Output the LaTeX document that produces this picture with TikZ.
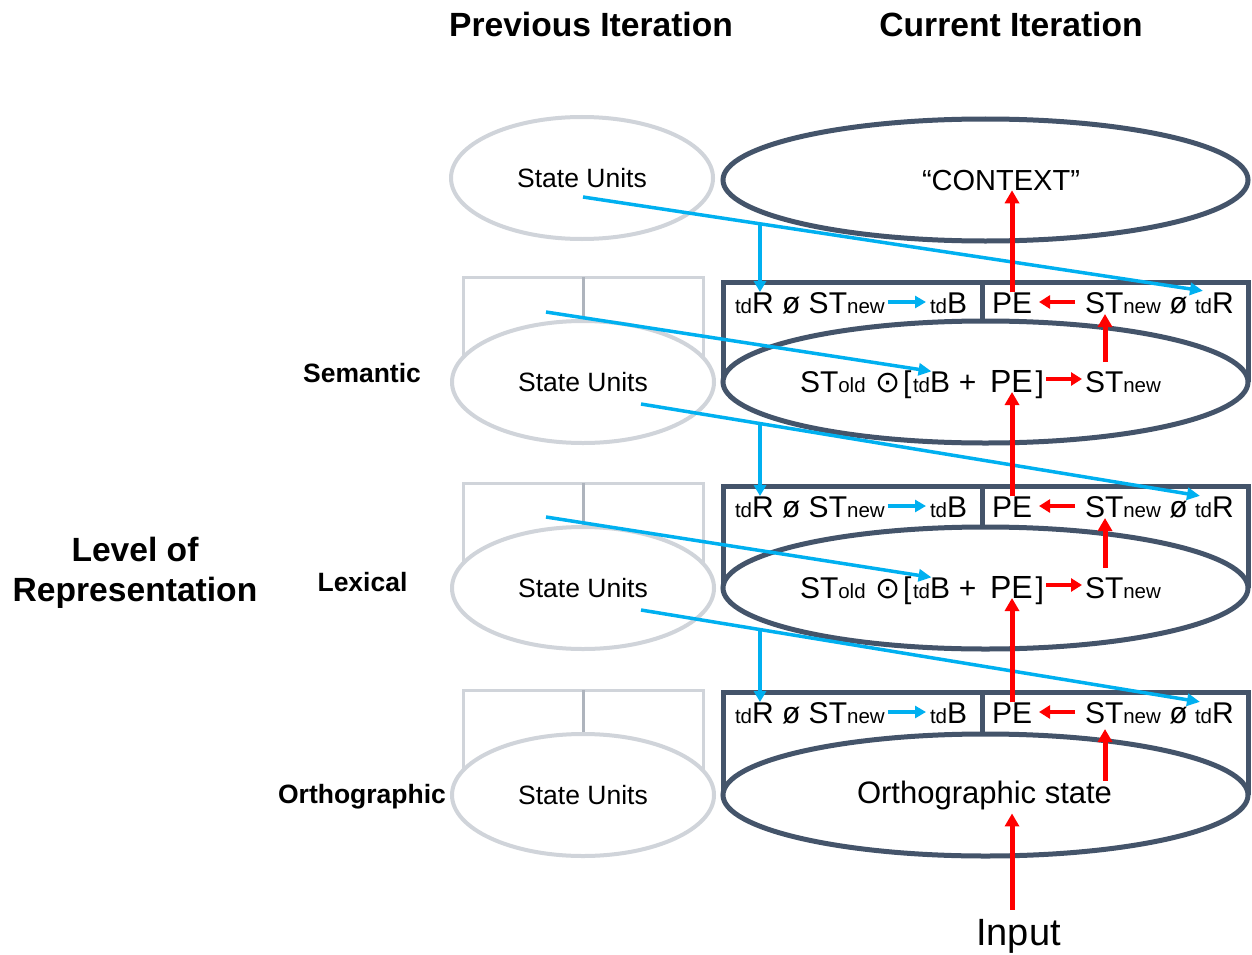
\documentclass[tikz,border=0pt]{standalone}
\usepackage{fontspec}
\setmainfont{Liberation Sans}
\newfontfamily\djv{DejaVu Sans}
\usetikzlibrary{shapes.geometric,arrows.meta,intersections,calc}
\definecolor{slate}{HTML}{44546A}
\definecolor{lgray}{HTML}{D0D4DA}
\definecolor{mgray}{HTML}{AEB4BD}
\definecolor{sky}{HTML}{00B0F0}
\definecolor{rd}{HTML}{FF0000}
\newcommand\smt[1]{{\fontsize{20.5}{24}\selectfont #1}}
\newcommand\fbig{\fontsize{30}{36}\selectfont}
\begin{document}
\begin{tikzpicture}[x=1pt,y=-1pt,
  grayell/.style={ellipse, draw=lgray, line width=4pt, fill=white, minimum width=262pt, minimum height=122pt, inner sep=0pt, font=\fontsize{26.5}{32}\selectfont},
  darkell/.style={ellipse, draw=slate, line width=5pt, fill=white, minimum width=525pt, minimum height=122pt, inner sep=0pt},
  grayframe/.style={draw=lgray, line width=3pt},
  graydiv/.style={draw=mgray, line width=3pt},
  darkframe/.style={draw=slate, line width=5pt},
  txt/.style={inner sep=0pt, outer sep=0pt, font=\fbig},
  head/.style={inner sep=0pt, font=\bfseries\fontsize{33.6}{40}\selectfont},
  lvl/.style={inner sep=0pt, font=\bfseries\fontsize{26.5}{31}\selectfont},
  bluearr/.style={draw=sky, line width=3.5pt, -{Triangle[length=13pt,width=12pt]}},
  blueshort/.style={draw=sky, line width=3.5pt, -{Triangle[length=11pt,width=12pt]}},
  redarr/.style={draw=rd, line width=5pt, -{Triangle[length=13pt,width=14pt]}},
  redsmall/.style={draw=rd, line width=4.5pt, -{Triangle[length=11pt,width=13pt]}},
]
\useasboundingbox[fill=white] (0,0) rectangle (1252,955);

% headings
\node[head, anchor=base] (prev) at (591,37) {Previous Iteration};
\node[head, anchor=base] (cur) at (1011,37) {Current Iteration};
\node[head, anchor=base] (lor1) at (135,561) {Level of};
\node[head, anchor=base] (lor2) at (135,601) {Representation};
\node[lvl, anchor=base] (sem) at (362,382) {Semantic};
\node[lvl, anchor=base] (lex) at (362.5,591) {Lexical};
\node[lvl, anchor=base] (ort) at (362,803) {Orthographic};

% top row
\node[grayell] (G0) at (582,178) {State Units};
\node[darkell] (E0) at (985.5,180) {};
\node[txt, font=\fontsize{29}{35}\selectfont, anchor=base] (ctx) at (1001,190) {“CONTEXT”};

% levels
\foreach \i/\C/\T in {1/382/280, 2/588/484, 3/795/690}{
  \pgfmathsetmacro\cb{\T+33}
  \draw[grayframe] (463,\C-20) -- (463,\C-105) -- (703,\C-105) -- (703,\C-20);
  \draw[graydiv] (583,\C-105) -- (583,\C-50);
  \node[grayell] (G\i) at (583,\C) {State Units};
  \draw[darkframe] (723,\C) -- (723,\T+2) -- (1248,\T+2) -- (1248,\C);
  \draw[darkframe] (982,\T) -- (982,\C-40);
  \node[darkell] (E\i) at (985.5,\C) {};
  \node[txt, anchor=base west] (cL\i) at (735,\cb) {\smt{td}R ø ST\smt{new}};
  \node[txt, anchor=base west] (cB\i) at (930,\cb) {\smt{td}B};
  \node[txt, anchor=base west] (cPE\i) at (992,\cb) {PE};
  \node[txt, anchor=base west] (cR\i) at (1085,\cb) {ST\smt{new} ø};
  \node[txt, anchor=base west] (cT\i) at (1195,\cb) {\smt{td}R};
}
\foreach \i/\C in {1/382, 2/588}{
  \pgfmathsetmacro\eb{\C+10}
  \node[txt, anchor=base west] (eS\i) at (800,\eb) {ST\smt{old}};
  \node[txt, anchor=base, font={\djv\fontsize{30}{34}\selectfont}] (eD\i) at (888,\eb) {⊙};
  \node[txt, anchor=base west] (eL\i) at (903,\eb) {[};
  \node[txt, anchor=base west] (eB\i) at (913,\eb) {\smt{td}B};
  \node[txt, anchor=base] (eP\i) at (967.5,\eb) {+};
  \node[txt, anchor=base west, font=\fontsize{32}{38}\selectfont] (ePE\i) at (990,\eb) {PE};
  \node[txt, anchor=base west] (eR\i) at ([xshift=3]ePE\i.base east) {]};
  \node[txt, anchor=base west] (eN\i) at (1085,\eb) {ST\smt{new}};
}
\node[txt, font=\fontsize{31}{37}\selectfont, anchor=base] (os) at (984.5,803) {Orthographic state};
\node[txt, font=\fontsize{38}{46}\selectfont, anchor=base] (inp) at (1018.5,945) {Input};

% blue connectors
\path[name path=vv] (760,0) -- (760,955);
\draw[bluearr, name path=b1] ([shift={(1,19)}]G0.center) -- ([shift={(8,-1.5)}]cT1.north west);
\draw[bluearr] ([shift={(-37,-70)}]G1.center) -- (eB1.north);
\draw[bluearr, name path=b3] ([shift={(58,22)}]G1.center) -- ([shift={(5,-0.5)}]cT2.north west);
\draw[bluearr] ([shift={(-37,-71)}]G2.center) -- (eB2.north);
\draw[bluearr, name path=b5] ([shift={(58,22)}]G2.center) -- ([shift={(5,-0.5)}]cT3.north west);
\path[name intersections={of=b1 and vv, by=m1}];
\path[name intersections={of=b3 and vv, by=m2}];
\path[name intersections={of=b5 and vv, by=m3}];
\foreach \i in {1,2,3}{
  \draw[blueshort] (m\i) -- (m\i |- cL\i.north);
  \draw[blueshort] ([shift={(3,-11)}]cL\i.base east) -- ([shift={(-4,-11)}]cB\i.base west);
  \draw[redsmall] ([shift={(-10,-11)}]cR\i.base west) -- ([shift={(7,-11)}]cPE\i.base east);
}

% red connectors
\foreach \i in {1,2}{
  \draw[redsmall] ([shift={(2,-13)}]eR\i.base east) -- ([shift={(-3,-13)}]eN\i.base west);
  \draw[redarr] ([shift={(20,-30)}]eN\i.base west) -- ([shift={(20,1)}]cR\i.base west);
}
\draw[redarr] ($(cR3.base west |- os.north)+(20,0)$) -- ([shift={(20,6)}]cR3.base west);
\draw[redarr] (cPE1.north) -- (ctx.south -| cPE1.north);
\draw[redarr] (cPE2.north) -- (ePE1.south -| cPE2.north);
\draw[redarr] (cPE3.north) -- (ePE2.south -| cPE3.north);
\draw[redarr] ([yshift=9]inp.north -| cPE3.north) -- ([yshift=-4]os.south -| cPE3.north);
\end{tikzpicture}
\end{document}
